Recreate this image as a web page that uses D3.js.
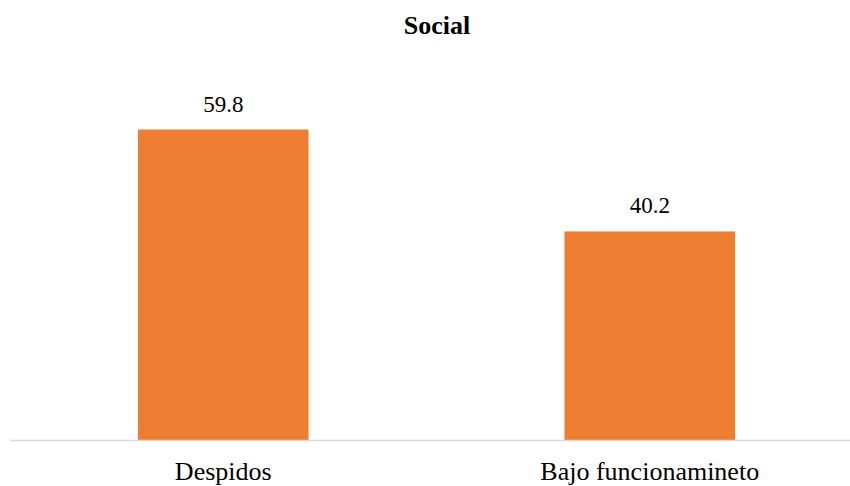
<!DOCTYPE html>
<html>
<head>
<meta charset="utf-8">
<script src="https://cdn.jsdelivr.net/npm/d3@7"></script>
<style>
  body { margin: 0; background: #fff; }
</style>
</head>
<body>
<svg width="850" height="486"></svg>
<script>
var categories = ["Despidos", "Bajo funcionamineto"];
var values = [59.8, 40.2];
var title = "Social";

var FONT = "'Liberation Serif', Tinos, 'Noto Serif', 'DejaVu Serif', FreeSerif, 'Times New Roman', Times, serif";

var svg = d3.select("svg");
var width = 850, height = 486;

// plot area (right edge runs past the window, like the original)
var x = d3.scaleBand()
    .domain(categories)
    .range([10, 863])
    .paddingInner(0.6)
    .paddingOuter(0.3);

var y = d3.scaleLinear()
    .domain([0, 70])
    .range([440.5, 76.5]);

svg.append("text")
    .attr("x", width / 2 + 12)
    .attr("y", 34)
    .attr("text-anchor", "middle")
    .attr("font-family", FONT)
    .style("font-size", "26px")
    .style("font-weight", "bold")
    .text(title);

var data = categories.map(function(c, i) { return {cat: c, val: values[i]}; });

svg.append("g").selectAll("rect")
    .data(data)
    .enter().append("rect")
    .attr("x", function(d) { return x(d.cat); })
    .attr("y", function(d) { return y(d.val); })
    .attr("width", x.bandwidth())
    .attr("height", function(d) { return y(0) - y(d.val); })
    .style("fill", "#ED7D31");

// value labels
svg.append("g").selectAll("text")
    .data(data)
    .enter().append("text")
    .attr("x", function(d) { return x(d.cat) + x.bandwidth() / 2; })
    .attr("y", function(d) { return y(d.val) - 18; })
    .attr("text-anchor", "middle")
    .attr("font-family", FONT)
    .style("font-size", "23px")
    .style("fill", "#000")
    .text(function(d) { return d.val.toFixed(1); });

// x axis
var xAxis = svg.append("g")
    .attr("transform", "translate(0," + y(0) + ")")
    .attr("font-family", FONT)
    .call(d3.axisBottom(x).tickSize(0));
xAxis.attr("font-family", FONT);
xAxis.select(".domain")
    .attr("d", "M10,0H850")
    .style("stroke", "#d9d9d9")
    .style("stroke-width", 1.3);
xAxis.selectAll("text")
    .attr("y", 39.5)
    .attr("dy", null)
    .style("font-size", "26px")
    .style("fill", "#000");
</script>
</body>
</html>
